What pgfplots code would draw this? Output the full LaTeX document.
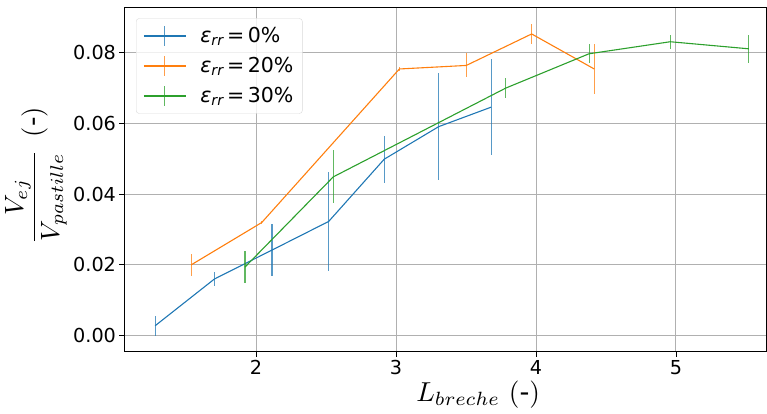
\documentclass[border=0pt]{standalone}
\usepackage{fontspec}
\setmainfont{DejaVu Sans}
\usepackage{amsmath}
\usepackage{graphicx}
\usepackage{pgfplots}
\usepackage{pgfplotstable}
\pgfplotsset{compat=1.18}

\definecolor{c0}{HTML}{1F77B4}
\definecolor{c1}{HTML}{FF7F0E}
\definecolor{c2}{HTML}{2CA02C}
\definecolor{gridc}{HTML}{B0B0B0}

\newcommand{\legtext}[1]{\hspace*{14bp}\fontsize{20.6}{24}\selectfont
  {\itshape ε\textsubscript{rr}}\,=\,#1\hspace*{2bp}}

% x  y  err
\pgfplotstableread{
x y e
1.279 0.0028 0.0028
1.702 0.0160 0.0019
2.114 0.0242 0.0073
2.519 0.0323 0.0141
2.916 0.0499 0.0066
3.305 0.0591 0.0152
3.679 0.0646 0.0136
}\epszero
\pgfplotstableread{
x y e
1.536 0.0200 0.0030
2.041 0.0320 0.0003
3.024 0.0754 0.0006
3.502 0.0764 0.0034
3.969 0.0853 0.0029
4.416 0.0754 0.0071
}\epstwenty
\pgfplotstableread{
x y e
1.921 0.0194 0.0045
2.552 0.0449 0.0075
3.784 0.0700 0.0029
4.379 0.0797 0.0027
4.959 0.0831 0.0020
5.521 0.0811 0.0040
}\epsthirty

\begin{document}
\begin{tikzpicture}
\begin{axis}[
    scale only axis,
    width=641bp, height=343.7bp,
    xmin=1.064, xmax=5.643,
    ymin=-0.00433, ymax=0.09284,
    xtick={2,3,4,5},
    ytick={0,0.02,0.04,0.06,0.08},
    scaled y ticks=false,
    yticklabel style={/pgf/number format/fixed, /pgf/number format/fixed zerofill,
        /pgf/number format/precision=2},
    /pgf/number format/assume math mode=true,
    tick label style={font=\fontsize{19.3}{23}\selectfont},
    tick align=outside, tick pos=left,
    major tick length=5.5bp,
    every tick/.style={black, line width=0.9bp},
    axis line style={line width=1bp},
    grid=major,
    grid style={gridc, line width=1bp},
    error bars/y dir=both, error bars/y explicit,
    error bars/error mark=none,
    error bars/error bar style={line width=1.1bp, opacity=0.75},
    xlabel={\scalebox{2.75}{$L_{breche}\ (\text{-})$}},
    ylabel={\scalebox{2.65}{$\displaystyle\frac{V_{ej}}{V_{pastille}}\ \,(\text{-})$}},
    xlabel style={at={(axis description cs:0.551,-0.1455)}, anchor=base},
    ylabel style={at={(axis description cs:-0.139,0.51)}, anchor=center},
    legend image code/.code={
        \draw[#1, line width=1.1bp] (0bp,0bp) -- (42bp,0bp);
        \draw[#1, line width=1.1bp, opacity=0.75] (21bp,-10bp) -- (21bp,10bp);
    },
    legend style={at={(axis description cs:0.0172,0.968)}, anchor=north west,
        draw=gray!30, rounded corners=3bp, fill=white, fill opacity=0.8, text opacity=1,
        nodes={inner xsep=0bp, inner ysep=0bp, text height=21bp, text depth=8bp},
        row sep=1bp, inner xsep=7bp, inner ysep=3bp},
    legend cell align=left,
]
\addplot[c0, line width=1.1bp] table[x=x, y=y, y error=e] {\epszero};
\addlegendentry{\legtext{0\%}}
\addplot[c1, line width=1.1bp] table[x=x, y=y, y error=e] {\epstwenty};
\addlegendentry{\legtext{20\%}}
\addplot[c2, line width=1.1bp] table[x=x, y=y, y error=e] {\epsthirty};
\addlegendentry{\legtext{30\%}}
\end{axis}
\pgfresetboundingbox
\path[use as bounding box] (current axis.south west) ++(-125bp,-63bp) rectangle ++(767bp,414bp);
\end{tikzpicture}
\end{document}
